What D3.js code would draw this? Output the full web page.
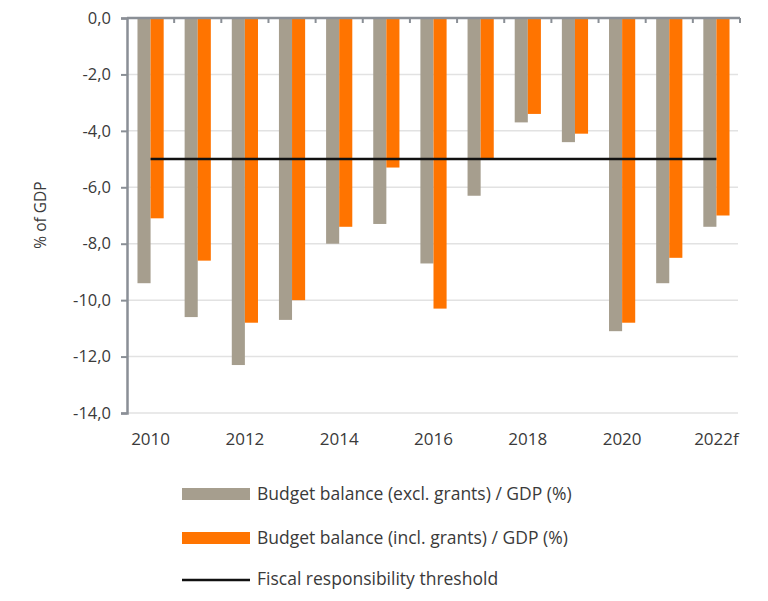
<!DOCTYPE html>
<html>
<head>
<meta charset="utf-8">
<script src="https://cdn.jsdelivr.net/npm/d3@7"></script>
<style>
  body { margin: 0; background: #fff; }
  text { font-family: "Open Sans", sans-serif; fill: #3a3a3a; }
</style>
</head>
<body>
<script>
const width = 768, height = 601;
const years = ["2010", "2011", "2012", "2013", "2014", "2015", "2016", "2017", "2018", "2019", "2020", "2021", "2022f"];
const labelYears = ["2010", "2012", "2014", "2016", "2018", "2020", "2022f"];
const exclGrants = [-9.4, -10.6, -12.3, -10.7, -8.0, -7.3, -8.7, -6.3, -3.7, -4.4, -11.1, -9.4, -7.4];
const inclGrants = [-7.1, -8.6, -10.8, -10.0, -7.4, -5.3, -10.3, -5.0, -3.4, -4.1, -10.8, -8.5, -7.0];
const threshold = -5;
const yTicks = [0, -2, -4, -6, -8, -10, -12, -14];
const seriesNames = ["Budget balance (excl. grants) / GDP (%)", "Budget balance (incl. grants) / GDP (%)"];
const lineName = "Fiscal responsibility threshold";
const colors = ["#a69e8e", "#ff7400"];

const svg = d3.select("body").append("svg").attr("width", width).attr("height", height);

const x = d3.scaleBand().domain(years).range([127, 740]);
const xSub = d3.scaleBand().domain([0, 1]).range([0, x.bandwidth()]).paddingOuter(0.8);
const y = d3.scaleLinear().domain([-14, 0]).range([413, 18]);

// gridlines
svg.append("g").selectAll("line")
  .data(yTicks.filter(d => d !== 0))
  .enter().append("line")
  .attr("x1", 127).attr("x2", 738)
  .attr("y1", d => y(d)).attr("y2", d => y(d))
  .attr("stroke", "#e2e2e2").attr("stroke-width", 1.5);

// bars
const groups = svg.append("g").selectAll("g")
  .data(years)
  .enter().append("g")
  .attr("transform", d => `translate(${x(d)},0)`);

groups.append("rect")
  .attr("x", xSub(0)).attr("width", xSub.bandwidth())
  .attr("y", y(0)).attr("height", (d, i) => y(exclGrants[i]) - y(0))
  .attr("fill", colors[0]);

groups.append("rect")
  .attr("x", xSub(1)).attr("width", xSub.bandwidth())
  .attr("y", y(0)).attr("height", (d, i) => y(inclGrants[i]) - y(0))
  .attr("fill", colors[1]);

// threshold line
svg.append("line")
  .attr("x1", x(years[0]) + x.bandwidth() / 2)
  .attr("x2", x(years[years.length - 1]) + x.bandwidth() / 2)
  .attr("y1", y(threshold)).attr("y2", y(threshold))
  .attr("stroke", "#111").attr("stroke-width", 2.5);

// top category axis at zero
svg.append("line")
  .attr("x1", 127).attr("x2", 740)
  .attr("y1", y(0)).attr("y2", y(0))
  .attr("stroke", "#8a8f96").attr("stroke-width", 2.5);
svg.append("g").selectAll("line")
  .data(years)
  .enter().append("line")
  .attr("x1", d => x(d) + x.step()).attr("x2", d => x(d) + x.step())
  .attr("y1", y(0)).attr("y2", y(0) + 5)
  .attr("stroke", "#8a8f96").attr("stroke-width", 2);

// y axis
const yAxis = svg.append("g")
  .attr("transform", "translate(127,0)")
  .call(d3.axisLeft(y).tickValues(yTicks).tickSize(6).tickPadding(10)
    .tickFormat(d => d3.format(".1f")(d).replace("−", "-").replace(".", ",")));
yAxis.select(".domain").attr("stroke", "#8a8f96").attr("stroke-width", 2.5);
yAxis.selectAll(".tick line").attr("stroke", "#8a8f96").attr("stroke-width", 2);
yAxis.selectAll("text").attr("font-size", 16.5).attr("font-family", "Open Sans").attr("fill", "#3a3a3a");

// x labels
const xAxis = svg.append("g")
  .attr("transform", "translate(0,413)")
  .call(d3.axisBottom(x).tickValues(labelYears).tickSize(0).tickPadding(20));
xAxis.select(".domain").remove();
xAxis.selectAll("text").attr("font-size", 17).attr("font-family", "Open Sans").attr("fill", "#3a3a3a");

// y title
svg.append("text")
  .attr("transform", "translate(46,215) rotate(-90)")
  .attr("text-anchor", "middle")
  .attr("font-size", 15.5)
  .text("% of GDP");

// legend
const legend = svg.append("g");
seriesNames.forEach((name, i) => {
  legend.append("rect")
    .attr("x", 182).attr("y", 488 + i * 44)
    .attr("width", 68).attr("height", 12)
    .attr("fill", colors[i]);
  legend.append("text")
    .attr("x", 257).attr("y", 500 + i * 44)
    .attr("font-size", 17.5)
    .text(name);
});
legend.append("line")
  .attr("x1", 182).attr("x2", 250)
  .attr("y1", 580).attr("y2", 580)
  .attr("stroke", "#111").attr("stroke-width", 2.5);
legend.append("text")
  .attr("x", 257).attr("y", 585)
  .attr("font-size", 17.5)
  .text(lineName);
</script>
</body>
</html>
